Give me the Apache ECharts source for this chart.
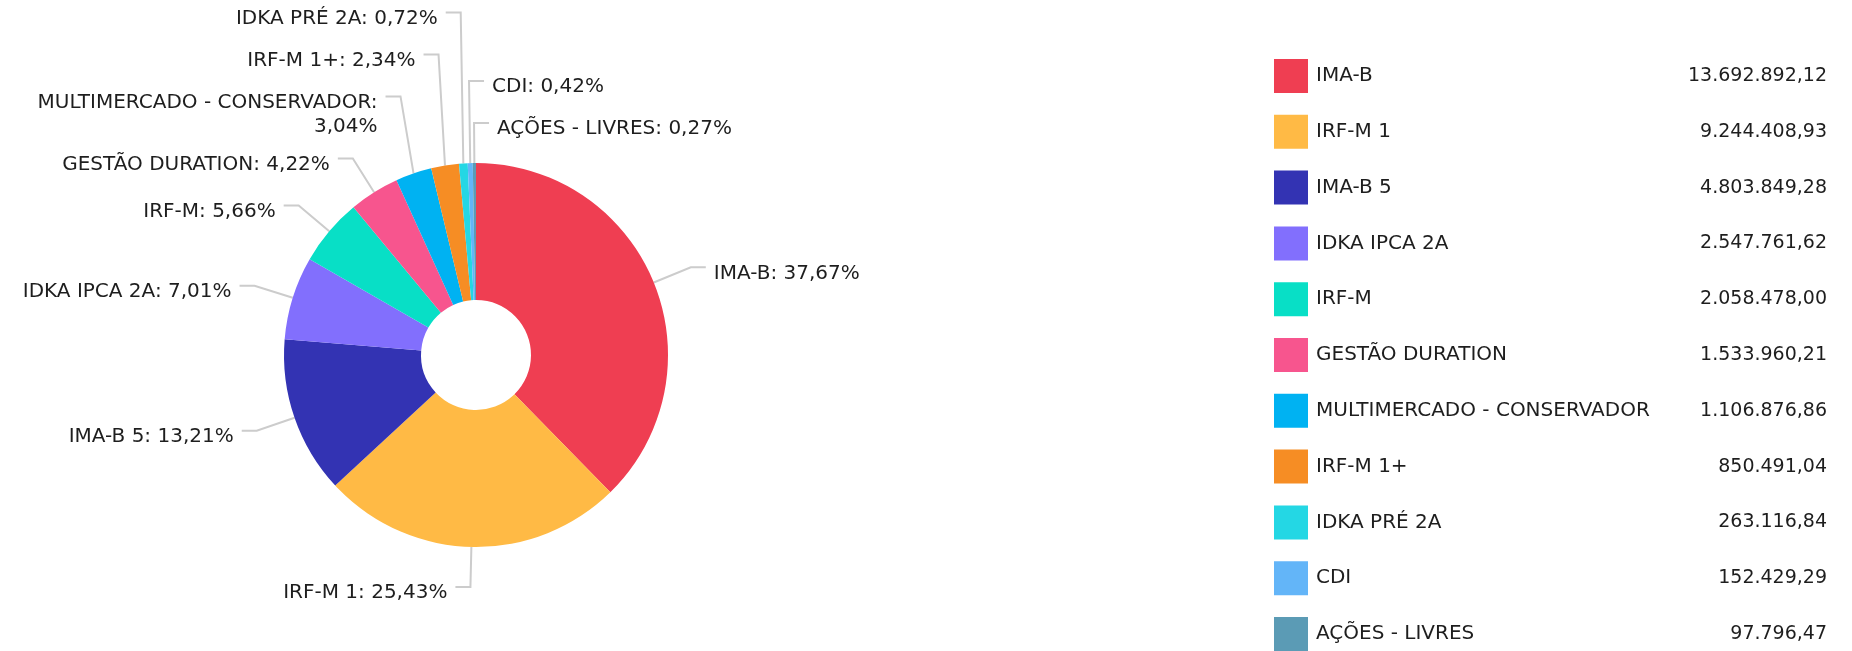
<!DOCTYPE html>
<html>
<head>
<meta charset="utf-8">
<style>
  html, body { margin: 0; padding: 0; background: #fff; }
  #chart { width: 1852px; height: 651px; }
</style>
<script src="https://cdn.jsdelivr.net/npm/echarts@6/dist/echarts.min.js"></script>
</head>
<body>
<div id="chart"></div>
<script>
const categories = ['IMA-B', 'IRF-M 1', 'IMA-B 5', 'IDKA IPCA 2A', 'IRF-M', 'GESTÃO DURATION',
  'MULTIMERCADO - CONSERVADOR', 'IRF-M 1+', 'IDKA PRÉ 2A', 'CDI', 'AÇÕES - LIVRES']
const values = [13692892.12, 9244408.93, 4803849.28, 2547761.62, 2058478.00, 1533960.21,
  1106876.86, 850491.04, 263116.84, 152429.29, 97796.47]
const palette = ['#ef3e52', '#ffba45', '#3333b3', '#826ffd', '#08dfc6', '#f7558e',
  '#00b2f2', '#f68d24', '#24d7e4', '#63b5f8', '#5b9bb5']

const total = values.reduce((a, b) => a + b, 0)
const font = 'DejaVu Sans'

// geometria da rosca
const cx = 476, cy = 355, rIn = 55, rOut = 192
const len1 = 40, len2 = 15, textGap = 8
const halfH = 21, extraLine = 20

// formata no padrão brasileiro: 1.234.567,89
function brl(v) {
  const parts = v.toFixed(2).split('.')
  return parts[0].replace(/\B(?=(\d{3})+(?!\d))/g, '.') + ',' + parts[1]
}

function labelText(i) {
  const pct = (values[i] / total * 100).toFixed(2).replace('.', ',') + '%'
  // nomes muito longos quebram antes do percentual
  return categories[i] + ':' + (categories[i].length > 20 ? '\n' : ' ') + pct
}

// posição dos rótulos: mantém o x natural da linha e só empilha na vertical
function buildLabelLayout() {
  let acc = 0
  const items = values.map((v, i) => {
    const mid = (acc + v / 2) / total * Math.PI * 2
    acc += v
    const sx = Math.sin(mid), sy = -Math.cos(mid)
    return {
      i: i,
      mid: mid,
      signed: mid > Math.PI ? mid - Math.PI * 2 : mid,
      // fatias coladas no topo mandam o rótulo para a direita
      right: sx > 0 || (sy < 0 && sx > -0.04),
      ex: cx + rOut * sx, ey: cy + rOut * sy,
      bx: cx + (rOut + len1) * sx, y: cy + (rOut + len1) * sy,
      lines: labelText(i).split('\n').length
    }
  })
  ;[true, false].forEach(side => {
    const list = items.filter(it => it.right === side)
    const up = list.filter(it => it.y < cy)
      .sort((a, b) => (side ? -a.signed : a.mid) - (side ? -b.signed : b.mid))
    let edge = Infinity
    up.forEach(it => {
      const below = halfH + (it.lines - 1) * extraLine
      it.y = Math.min(it.y, edge - below)
      edge = it.y - halfH
    })
    const down = list.filter(it => it.y >= cy)
      .sort((a, b) => (side ? a.mid : -a.mid) - (side ? b.mid : -b.mid))
    edge = -Infinity
    down.forEach(it => {
      it.y = Math.max(it.y, edge + halfH)
      edge = it.y + halfH + (it.lines - 1) * extraLine
    })
  })
  const out = []
  items.forEach(it => {
    const dir = it.right ? 1 : -1
    const lx = it.bx + dir * len2
    out[it.i] = {
      x: lx + dir * textGap,
      y: it.y + (it.lines - 1) * 12 + 6,
      align: it.right ? 'left' : 'right',
      points: [[it.ex, it.ey], [it.bx, it.y], [lx, it.y]]
    }
  })
  return out
}

const labelPos = buildLabelLayout()
const seriesData = categories.map((name, i) => ({ name: name, value: values[i] }))

const chart = echarts.init(document.getElementById('chart'))
chart.setOption({
  animation: false,
  color: palette,
  textStyle: { fontFamily: font },
  legend: {
    orient: 'vertical',
    left: 1274,
    top: 59,
    height: 620,
    padding: 0,
    icon: 'rect',
    itemWidth: 34,
    itemHeight: 34,
    itemGap: 21.8,
    selectedMode: false,
    formatter: function (name) {
      const i = categories.indexOf(name)
      return '{n|' + name + '}{v|' + brl(values[i]) + '}'
    },
    textStyle: {
      rich: {
        n: { width: 320, fontSize: 20, color: '#1e1e1e', fontFamily: font, padding: [0, 0, 0, 3] },
        v: { width: 191, fontSize: 19, color: '#1e1e1e', fontFamily: font, align: 'right' }
      }
    }
  },
  series: [{
    type: 'pie',
    left: 0,
    top: 0,
    right: 0,
    bottom: 0,
    center: [cx, cy],
    radius: [rIn, rOut],
    startAngle: 90,
    avoidLabelOverlap: false,
    data: seriesData,
    label: {
      fontSize: 20,
      lineHeight: 24,
      color: '#1e1e1e',
      fontFamily: font,
      overflow: 'none',
      formatter: function (p) {
        return labelText(p.dataIndex)
      }
    },
    labelLine: {
      length: len1,
      length2: len2,
      lineStyle: { color: '#cccccc', width: 2 }
    },
    labelLayout: function (p) {
      const L = labelPos[p.dataIndex]
      return {
        x: L.x,
        y: L.y,
        align: L.align,
        verticalAlign: 'middle',
        labelLinePoints: L.points
      }
    }
  }]
})
</script>
</body>
</html>
